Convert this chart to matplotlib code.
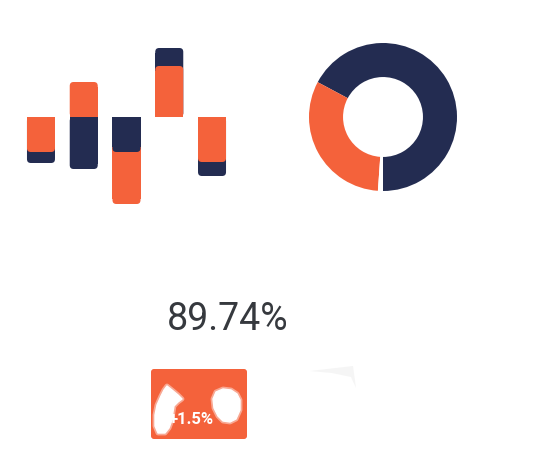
import matplotlib
matplotlib.use("Agg")
import matplotlib.pyplot as plt
from matplotlib.patches import FancyBboxPatch, Polygon, Rectangle

# data
orange_vals = [-35, 35, -87, 51, -45]
navy_vals = [-46, -52, -35, 69, -59]
donut_vals = [67.2, 31.7, 1.1]   # navy, orange, gap
big_label = "89.74%"
change_label = "+1.5%"

ORANGE = "#F4623B"
NAVY = "#232C51"
TEXT = "#36393E"

W, H = 549, 454
fig = plt.figure(figsize=(W / 100, H / 100), dpi=100)
fig.patch.set_facecolor("white")


def px_axes(x0, y0, x1, y1):
    # axes from pixel box (top-left origin)
    return fig.add_axes([x0 / W, 1 - y1 / H, (x1 - x0) / W, (y1 - y0) / H])


def round_bar(ax, b, color, z):
    # rounded at the far end, square at the baseline
    x, w, h = b.get_x(), b.get_width(), b.get_height()
    y0, y1 = min(0, h), max(0, h)
    ax.add_patch(FancyBboxPatch((x, y0), w, y1 - y0,
                                boxstyle="round,pad=0,rounding_size=0.09",
                                mutation_aspect=42.75, fc=color, ec="none",
                                zorder=z))
    sq = min(abs(h), abs(h) - 5) if abs(h) > 5 else abs(h) / 2
    ax.add_patch(Rectangle((x, 0), w, sq if h > 0 else -sq, fc=color,
                           ec="none", zorder=z))
    b.remove()


# bar chart
ax = px_axes(19.6, 40, 233.4, 210)
xs = range(len(orange_vals))
ob = ax.bar(xs, orange_vals, width=0.655)
nb = ax.bar(xs, navy_vals, width=0.655)
for i, (o, n) in enumerate(zip(orange_vals, navy_vals)):
    # smaller magnitude sits on top
    oz, nz = (3, 2) if abs(o) < abs(n) or o * n < 0 else (2, 3)
    round_bar(ax, ob[i], ORANGE, oz)
    round_bar(ax, nb[i], NAVY, nz)
ax.set_xlim(-0.5, 4.5)
ax.set_ylim(-93, 77)
ax.axis("off")

# donut
axp = px_axes(309, 43, 457, 191)
axp.pie(donut_vals, colors=[NAVY, ORANGE, "white"], startangle=-90,
        counterclock=True, radius=1, wedgeprops=dict(width=0.46, linewidth=0))
axp.set_xlim(-1, 1)
axp.set_ylim(-1, 1)
axp.set_aspect("equal")
axp.axis("off")

# overlay for text and badge
ov = fig.add_axes([0, 0, 1, 1])
ov.set_xlim(0, W)
ov.set_ylim(H, 0)
ov.axis("off")

ov.text(228, 319, big_label, fontsize=27, color=TEXT, family="Roboto",
        ha="center", va="center")

ov.add_patch(FancyBboxPatch((151, 369), 96, 70,
                            boxstyle="round,pad=0,rounding_size=3",
                            fc=ORANGE, ec="none"))
ov.text(191, 419, change_label, fontsize=12, color="white",
        fontweight="bold", family="Roboto", ha="center", va="center", zorder=4)

# white smudges over the badge
blob1 = [(167, 386), (172, 390), (178, 395), (182, 399), (178, 402), (174, 406),
         (173, 412), (172, 420), (169, 428), (165, 433), (158, 433), (155, 426),
         (155, 415), (157, 405), (161, 396), (164, 390)]
blob2 = [(223, 389), (231, 390), (237, 394), (240, 400), (240, 410), (236, 419),
         (230, 422), (223, 421), (218, 416), (214, 408), (213, 399), (216, 392)]
for b in (blob1, blob2):
    ov.add_patch(Polygon(b, closed=True, fc="none", ec="white", lw=3.5,
                         alpha=0.45, zorder=5, joinstyle="round"))
    ov.add_patch(Polygon(b, closed=True, fc="white", ec="white", lw=1,
                         zorder=6, joinstyle="round"))

# faint grey sliver
ov.add_patch(Polygon([(310, 371), (353, 366), (356, 388), (351, 377), (332, 373)],
                     closed=True, fc="#F5F5F5", ec="none"))

fig.savefig("out.png", dpi=100, facecolor="white")
